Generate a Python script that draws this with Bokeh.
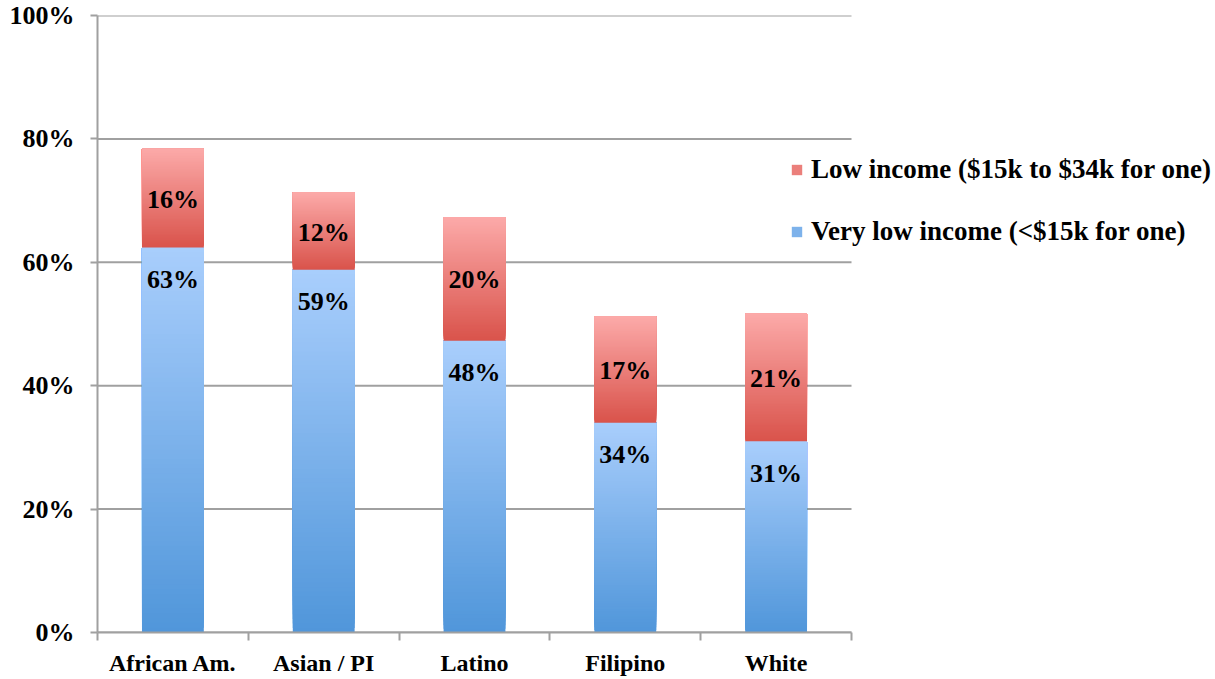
from bokeh.plotting import figure
from bokeh.models import (ColumnDataSource, Range1d, FixedTicker, Legend, LegendItem, LabelSet)
from bokeh.embed import file_html
from bokeh.resources import INLINE

# ---- data ----
categories = ["African Am.", "Asian / PI", "Latino", "Filipino", "White"]
very_low = [62.4, 58.8, 47.3, 34.0, 31.0]
low = [16.0, 12.5, 20.0, 17.2, 20.7]
very_low_labels = ["63%", "59%", "48%", "34%", "31%"]
low_labels = ["16%", "12%", "20%", "17%", "21%"]
y_ticks = [0, 20, 40, 60, 80, 100]
y_tick_labels = ["0%", "20%", "40%", "60%", "80%", "100%"]
series_names = ["Low income ($15k to $34k for one)", "Very low income (<$15k for one)"]

FONT = "Liberation Serif"
BLUE_TOP, BLUE_BOT = (0xA9, 0xCE, 0xFC), (0x50, 0x96, 0xDA)
RED_TOP, RED_BOT = (0xFC, 0xAA, 0xA9), (0xD9, 0x53, 0x4B)
N = 80
BW = 0.41

W, H = 1212, 676
LEFT, TOP, BOTTOM_Y = 97, 15, 632
PLOT_W = 754  # pixel width of the categories region
FRAME_W = W - LEFT
FRAME_H = BOTTOM_Y - TOP
NCAT = len(categories)


def mix(c0, c1, f):
    return "#%02x%02x%02x" % tuple(int(round(a + (b - a) * f)) for a, b in zip(c0, c1))


def gradient_source(bottoms, tops, cbot, ctop):
    d = dict(left=[], right=[], bottom=[], top=[], color=[])
    for i, (b, t) in enumerate(zip(bottoms, tops)):
        xc = i + 0.5
        for k in range(N):
            d["left"].append(xc - BW / 2)
            d["right"].append(xc + BW / 2)
            d["bottom"].append(b + (t - b) * k / N)
            d["top"].append(t)
            d["color"].append(mix(cbot, ctop, (k + 0.5) / N))
    return ColumnDataSource(d)


p = figure(width=W, height=H, output_backend="svg", toolbar_location=None,
           x_range=Range1d(0, NCAT * FRAME_W / PLOT_W), y_range=Range1d(0, 100),
           frame_width=FRAME_W, frame_height=FRAME_H,
           min_border_left=LEFT, min_border_right=0, min_border_top=TOP,
           min_border_bottom=H - BOTTOM_Y)
p.outline_line_color = None
p.background_fill_color = "white"

AX = "#a0a0a0"
# horizontal gridlines limited to the category region
p.segment(x0=[0] * len(y_ticks), x1=[NCAT] * len(y_ticks), y0=y_ticks, y1=y_ticks,
          line_color=AX, line_width=2)

blue_src = gradient_source([0] * NCAT, very_low, BLUE_BOT, BLUE_TOP)
red_src = gradient_source(very_low, [a + b for a, b in zip(very_low, low)], RED_BOT, RED_TOP)
r_blue = p.quad(left="left", right="right", bottom="bottom", top="top", source=blue_src,
                fill_color="color", line_color=None)
r_red = p.quad(left="left", right="right", bottom="bottom", top="top", source=red_src,
               fill_color="color", line_color=None)

xs = [i + 0.5 for i in range(NCAT)]
lab_src = ColumnDataSource(dict(
    x=xs,
    yb=very_low,
    yr=[a + b / 2 for a, b in zip(very_low, low)],
    tb=very_low_labels,
    tr=low_labels,
))
p.add_layout(LabelSet(x="x", y="yb", text="tb", source=lab_src, text_align="center",
                      text_baseline="middle", y_offset=-32, text_font=FONT,
                      text_font_style="bold", text_font_size="26px", text_color="black"))
p.add_layout(LabelSet(x="x", y="yr", text="tr", source=lab_src, text_align="center",
                      text_baseline="middle", y_offset=-1, text_font=FONT,
                      text_font_style="bold", text_font_size="26px", text_color="black"))

# y axis
ya = p.yaxis[0]
ya.ticker = FixedTicker(ticks=y_ticks, minor_ticks=[])
ya.major_label_overrides = {t: l for t, l in zip(y_ticks, y_tick_labels)}
ya.axis_line_color = AX
ya.axis_line_width = 2
ya.major_tick_line_color = AX
ya.major_tick_line_width = 2
ya.major_tick_in = 0
ya.major_tick_out = 7
ya.major_label_standoff = 16
ya.major_label_text_font = FONT
ya.major_label_text_font_style = "bold"
ya.major_label_text_font_size = "26px"
ya.major_label_text_color = "black"

# x axis
xa = p.xaxis[0]
xa.bounds = (0, NCAT)
xa.ticker = FixedTicker(ticks=xs, minor_ticks=list(range(NCAT + 1)))
xa.major_label_overrides = {x: c for x, c in zip(xs, categories)}
xa.axis_line_color = AX
xa.axis_line_width = 2
xa.major_tick_line_color = None
xa.major_tick_in = 0
xa.major_tick_out = 0
xa.minor_tick_line_color = AX
xa.minor_tick_line_width = 2
xa.minor_tick_in = 0
xa.minor_tick_out = 8
xa.major_label_standoff = 9
xa.major_label_text_font = FONT
xa.major_label_text_font_style = "bold"
xa.major_label_text_font_size = "24px"
xa.major_label_text_color = "black"

p.xgrid.grid_line_color = None
p.ygrid.grid_line_color = None

legend = Legend(items=[
    LegendItem(label=series_names[0], renderers=[r_red], index=N // 2),
    LegendItem(label=series_names[1], renderers=[r_blue], index=N // 2),
], location=(693, 385), padding=0, margin=0, spacing=31,
    glyph_width=13, glyph_height=13, label_standoff=8,
    label_text_font=FONT, label_text_font_style="bold", label_text_font_size="27px",
    label_text_color="black", border_line_color=None, background_fill_alpha=0)
p.add_layout(legend, "center")

open("out.html", "w").write(file_html(p, INLINE))
